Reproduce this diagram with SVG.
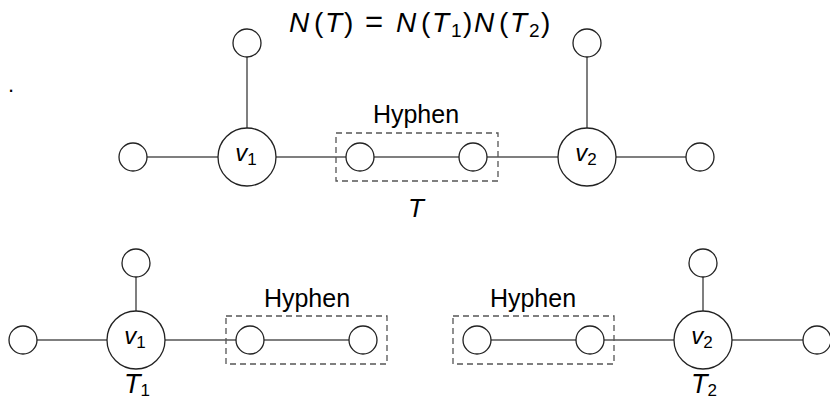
<svg xmlns="http://www.w3.org/2000/svg" width="830" height="401" viewBox="0 0 830 401">
<style>
.n{fill:#fff;stroke:#222;stroke-width:1.3}
.e{stroke:#555;stroke-width:1.5;fill:none}
.box{fill:none;stroke:#555;stroke-width:1.3;stroke-dasharray:6,4}
text{font-family:"Liberation Sans",Arial,sans-serif;fill:#000}
.lbl{font-size:25px}
.m{font-style:italic}
</style>
<rect width="830" height="401" fill="#fff"/>
<g id="connectors">
<line class="e" x1="133" y1="157" x2="587" y2="157"/>
<line class="e" x1="587" y1="157" x2="700" y2="157"/>
<line class="e" x1="247" y1="43" x2="247" y2="157"/>
<line class="e" x1="587" y1="43" x2="587" y2="157"/>
<line class="e" x1="23" y1="340" x2="363" y2="340"/>
<line class="e" x1="136" y1="263" x2="136" y2="340"/>
<line class="e" x1="477" y1="340" x2="817" y2="340"/>
<line class="e" x1="703" y1="263" x2="703" y2="340"/>
</g>
<g id="formula"><text y="32" font-size="28"><tspan class="m" x="289">N</tspan><tspan x="314">(</tspan><tspan class="m" x="325">T</tspan><tspan x="344">)</tspan><tspan x="365" font-size="31">=</tspan><tspan class="m" x="396">N</tspan><tspan x="421">(</tspan><tspan class="m" x="432">T</tspan><tspan font-size="19" x="451" dy="5">1</tspan><tspan x="463" dy="-5">)</tspan><tspan class="m" x="474">N</tspan><tspan x="499">(</tspan><tspan class="m" x="510">T</tspan><tspan font-size="19" x="529" dy="5">2</tspan><tspan x="541" dy="-5">)</tspan></text></g>
<g id="dot"><text x="8" y="92" font-size="22">.</text></g>
<g id="top">
<g id="t-left"><circle class="n" cx="133" cy="157" r="14"/></g>
<g id="t-v1"><circle class="n" cx="247" cy="157" r="29"/><text x="246" y="161" font-size="24" text-anchor="middle"><tspan class="m">v</tspan><tspan font-size="17" dy="4">1</tspan></text></g>
<g id="t-v1top"><circle class="n" cx="247" cy="43" r="14"/></g>
<g id="t-hyphen"><rect class="box" x="336" y="133" width="162" height="48"/><text class="lbl" x="416" y="123" text-anchor="middle">Hyphen</text></g>
<g id="t-h1"><circle class="n" cx="360" cy="157" r="14"/></g>
<g id="t-h2"><circle class="n" cx="473" cy="157" r="14"/></g>
<g id="t-v2"><circle class="n" cx="587" cy="157" r="29"/><text x="586" y="161" font-size="24" text-anchor="middle"><tspan class="m">v</tspan><tspan font-size="17" dy="4">2</tspan></text></g>
<g id="t-v2top"><circle class="n" cx="587" cy="43" r="14"/></g>
<g id="t-right"><circle class="n" cx="700" cy="157" r="14"/></g>
<g id="t-label"><text x="416" y="217" font-size="26" class="m" text-anchor="middle">T</text></g>
</g>
<g id="t1">
<g id="b1-left"><circle class="n" cx="23" cy="340" r="14"/></g>
<g id="b1-v1"><circle class="n" cx="136" cy="340" r="29"/><text x="135" y="344" font-size="24" text-anchor="middle"><tspan class="m">v</tspan><tspan font-size="17" dy="4">1</tspan></text></g>
<g id="b1-top"><circle class="n" cx="136" cy="263" r="14"/></g>
<g id="b1-hyphen"><rect class="box" x="226" y="316" width="161" height="48"/><text class="lbl" x="307" y="307" text-anchor="middle">Hyphen</text></g>
<g id="b1-h1"><circle class="n" cx="250" cy="340" r="14"/></g>
<g id="b1-h2"><circle class="n" cx="363" cy="340" r="14"/></g>
<g id="b1-label"><text x="137" y="393" font-size="27" text-anchor="middle"><tspan class="m">T</tspan><tspan font-size="17" dy="3">1</tspan></text></g>
</g>
<g id="t2">
<g id="b2-hyphen"><rect class="box" x="453" y="316" width="161" height="48"/><text class="lbl" x="533" y="307" text-anchor="middle">Hyphen</text></g>
<g id="b2-h1"><circle class="n" cx="477" cy="340" r="14"/></g>
<g id="b2-h2"><circle class="n" cx="590" cy="340" r="14"/></g>
<g id="b2-v2"><circle class="n" cx="703" cy="340" r="29"/><text x="702" y="344" font-size="24" text-anchor="middle"><tspan class="m">v</tspan><tspan font-size="17" dy="4">2</tspan></text></g>
<g id="b2-top"><circle class="n" cx="703" cy="263" r="14"/></g>
<g id="b2-right"><circle class="n" cx="817" cy="340" r="14"/></g>
<g id="b2-label"><text x="704" y="393" font-size="27" text-anchor="middle"><tspan class="m">T</tspan><tspan font-size="17" dy="3">2</tspan></text></g>
</g>
</svg>
